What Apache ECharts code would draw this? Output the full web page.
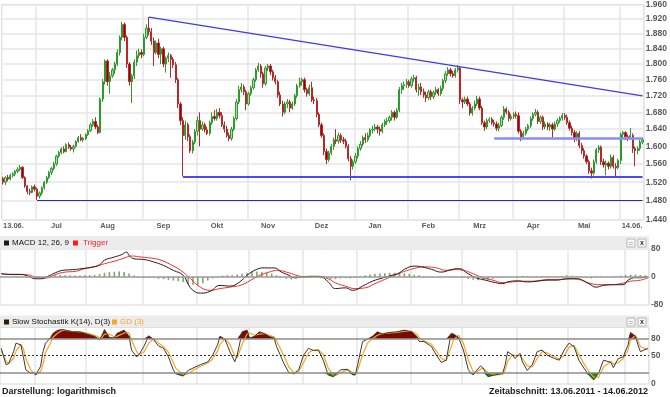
<!DOCTYPE html>
<html>
<head>
<meta charset="utf-8">
<script src="https://cdn.jsdelivr.net/npm/echarts@6/dist/echarts.min.js"></script>
<style>
  html, body { margin: 0; padding: 0; background: #fff; }
  #main { width: 670px; height: 397px; }
</style>
</head>
<body>
<div id="main"></div>
<script>
// ---- data ----
const dayCount = 264; // trading days 13.06.2011 .. 14.06.2012
const priceTicks = [1.44, 1.48, 1.52, 1.56, 1.60, 1.64, 1.68, 1.72, 1.76, 1.80, 1.84, 1.88, 1.92, 1.96];
const monthNames = ['Jan', 'Feb', 'Mrz', 'Apr', 'Mai', 'Jun', 'Jul', 'Aug', 'Sep', 'Okt', 'Nov', 'Dez'];

// [open, close, low, high] per trading day
const candles = [
  [1.528,1.520,1.515,1.532],[1.520,1.530,1.514,1.533],[1.530,1.527,1.522,1.536],[1.527,1.535,1.524,1.539],
  [1.535,1.538,1.530,1.542],[1.538,1.544,1.533,1.547],[1.544,1.548,1.540,1.553],[1.548,1.553,1.544,1.558],
  [1.553,1.530,1.527,1.555],[1.530,1.512,1.508,1.533],[1.512,1.500,1.494,1.514],[1.500,1.498,1.492,1.506],
  [1.498,1.510,1.496,1.513],[1.510,1.505,1.500,1.515],[1.505,1.490,1.482,1.508],[1.490,1.497,1.485,1.500],
  [1.497,1.508,1.492,1.511],[1.508,1.520,1.504,1.523],[1.520,1.530,1.516,1.534],[1.530,1.541,1.527,1.545],
  [1.541,1.550,1.536,1.554],[1.550,1.560,1.546,1.565],[1.560,1.578,1.556,1.581],[1.578,1.586,1.574,1.590],
  [1.586,1.594,1.582,1.598],[1.594,1.588,1.584,1.600],[1.588,1.604,1.586,1.607],[1.604,1.598,1.594,1.609],
  [1.598,1.594,1.590,1.603],[1.594,1.600,1.586,1.604],[1.600,1.611,1.597,1.614],[1.611,1.620,1.608,1.624],
  [1.620,1.615,1.612,1.628],[1.615,1.618,1.610,1.622],[1.618,1.627,1.614,1.630],[1.627,1.636,1.624,1.640],
  [1.636,1.650,1.633,1.655],[1.650,1.658,1.645,1.664],[1.658,1.645,1.640,1.668],[1.645,1.632,1.628,1.650],
  [1.632,1.712,1.630,1.716],[1.712,1.755,1.705,1.762],[1.755,1.808,1.748,1.812],[1.808,1.755,1.745,1.812],
  [1.755,1.770,1.725,1.780],[1.770,1.785,1.765,1.790],[1.785,1.800,1.775,1.806],[1.800,1.830,1.795,1.838],
  [1.830,1.870,1.822,1.875],[1.870,1.905,1.862,1.912],[1.905,1.870,1.860,1.910],[1.870,1.800,1.790,1.875],
  [1.800,1.755,1.745,1.805],[1.755,1.770,1.702,1.775],[1.770,1.805,1.762,1.812],[1.805,1.822,1.795,1.835],
  [1.822,1.830,1.815,1.840],[1.830,1.825,1.815,1.838],[1.825,1.870,1.820,1.880],[1.870,1.895,1.865,1.905],
  [1.895,1.885,1.875,1.925],[1.885,1.860,1.850,1.895],[1.860,1.830,1.795,1.870],[1.830,1.855,1.825,1.862],
  [1.855,1.825,1.815,1.866],[1.825,1.840,1.800,1.845],[1.840,1.800,1.792,1.845],[1.800,1.815,1.778,1.820],
  [1.815,1.822,1.805,1.830],[1.822,1.812,1.765,1.826],[1.812,1.798,1.790,1.818],[1.798,1.760,1.752,1.805],
  [1.760,1.700,1.690,1.765],[1.700,1.660,1.650,1.705],[1.660,1.625,1.533,1.668],[1.625,1.650,1.615,1.660],
  [1.650,1.622,1.612,1.655],[1.622,1.590,1.585,1.628],[1.590,1.610,1.584,1.615],[1.610,1.635,1.605,1.640],
  [1.635,1.660,1.625,1.670],[1.660,1.640,1.600,1.680],[1.640,1.650,1.636,1.658],[1.650,1.638,1.632,1.655],
  [1.638,1.630,1.626,1.645],[1.630,1.655,1.625,1.660],[1.655,1.670,1.650,1.680],[1.670,1.665,1.660,1.685],
  [1.665,1.680,1.660,1.688],[1.680,1.672,1.665,1.690],[1.672,1.650,1.645,1.680],[1.650,1.640,1.632,1.658],
  [1.640,1.625,1.620,1.648],[1.625,1.618,1.612,1.632],[1.618,1.640,1.613,1.645],[1.640,1.665,1.635,1.670],
  [1.665,1.705,1.660,1.712],[1.705,1.735,1.700,1.745],[1.735,1.742,1.728,1.752],[1.742,1.730,1.722,1.748],
  [1.730,1.700,1.685,1.735],[1.700,1.725,1.696,1.730],[1.725,1.740,1.720,1.745],[1.740,1.760,1.735,1.765],
  [1.760,1.785,1.755,1.790],[1.785,1.795,1.780,1.803],[1.795,1.775,1.765,1.800],[1.775,1.750,1.740,1.780],
  [1.750,1.790,1.745,1.795],[1.790,1.795,1.782,1.800],[1.795,1.780,1.772,1.800],[1.780,1.765,1.758,1.785],
  [1.765,1.755,1.748,1.772],[1.755,1.722,1.715,1.760],[1.722,1.700,1.695,1.730],[1.700,1.680,1.670,1.708],
  [1.680,1.700,1.675,1.705],[1.700,1.705,1.690,1.712],[1.705,1.690,1.680,1.710],[1.690,1.700,1.686,1.706],
  [1.700,1.720,1.695,1.725],[1.720,1.745,1.715,1.750],[1.745,1.755,1.740,1.765],[1.755,1.760,1.745,1.765],
  [1.760,1.735,1.728,1.765],[1.735,1.725,1.718,1.740],[1.725,1.740,1.720,1.748],[1.740,1.710,1.705,1.755],
  [1.710,1.708,1.700,1.718],[1.708,1.675,1.668,1.715],[1.675,1.650,1.645,1.680],[1.650,1.625,1.620,1.655],
  [1.625,1.588,1.580,1.630],[1.588,1.570,1.560,1.595],[1.570,1.585,1.565,1.590],[1.585,1.600,1.580,1.605],
  [1.600,1.615,1.592,1.620],[1.615,1.612,1.605,1.640],[1.612,1.625,1.606,1.632],[1.625,1.615,1.608,1.630],
  [1.615,1.612,1.605,1.622],[1.612,1.600,1.595,1.618],[1.600,1.572,1.566,1.605],[1.572,1.555,1.524,1.578],
  [1.555,1.565,1.548,1.570],[1.565,1.578,1.560,1.585],[1.578,1.595,1.572,1.600],[1.595,1.605,1.590,1.612],
  [1.605,1.620,1.600,1.625],[1.620,1.615,1.608,1.630],[1.615,1.625,1.610,1.632],[1.625,1.638,1.620,1.642],
  [1.638,1.640,1.630,1.648],[1.640,1.645,1.635,1.652],[1.645,1.640,1.630,1.650],[1.640,1.635,1.625,1.646],
  [1.635,1.650,1.630,1.655],[1.650,1.658,1.645,1.663],[1.658,1.660,1.650,1.667],[1.660,1.668,1.655,1.672],
  [1.668,1.680,1.660,1.685],[1.680,1.668,1.660,1.684],[1.668,1.685,1.664,1.690],[1.685,1.735,1.680,1.742],
  [1.735,1.745,1.725,1.752],[1.745,1.748,1.735,1.755],[1.748,1.755,1.740,1.762],[1.755,1.745,1.740,1.760],
  [1.745,1.762,1.740,1.768],[1.762,1.765,1.755,1.772],[1.765,1.735,1.728,1.770],[1.735,1.742,1.720,1.750],
  [1.742,1.730,1.722,1.752],[1.730,1.722,1.715,1.738],[1.722,1.715,1.705,1.730],[1.715,1.730,1.710,1.735],
  [1.730,1.718,1.710,1.735],[1.718,1.728,1.712,1.733],[1.728,1.735,1.722,1.742],[1.735,1.725,1.720,1.740],
  [1.725,1.738,1.720,1.745],[1.738,1.758,1.732,1.762],[1.758,1.775,1.752,1.782],[1.775,1.785,1.770,1.792],
  [1.785,1.775,1.768,1.790],[1.775,1.770,1.765,1.782],[1.770,1.785,1.765,1.790],[1.785,1.790,1.778,1.797],
  [1.790,1.710,1.700,1.795],[1.710,1.705,1.690,1.715],[1.705,1.712,1.700,1.718],[1.712,1.700,1.695,1.718],
  [1.700,1.678,1.672,1.705],[1.678,1.690,1.672,1.695],[1.690,1.700,1.685,1.708],[1.700,1.712,1.695,1.720],
  [1.712,1.690,1.685,1.718],[1.690,1.655,1.650,1.695],[1.655,1.645,1.636,1.660],[1.645,1.660,1.640,1.665],
  [1.660,1.663,1.655,1.668],[1.663,1.655,1.650,1.668],[1.655,1.652,1.646,1.662],[1.652,1.642,1.636,1.658],
  [1.642,1.648,1.635,1.655],[1.648,1.668,1.645,1.672],[1.668,1.688,1.662,1.695],[1.688,1.680,1.675,1.692],
  [1.680,1.665,1.658,1.685],[1.665,1.670,1.660,1.676],[1.670,1.675,1.664,1.680],[1.675,1.672,1.665,1.682],
  [1.672,1.635,1.630,1.680],[1.635,1.622,1.612,1.640],[1.622,1.630,1.618,1.636],[1.630,1.640,1.625,1.645],
  [1.640,1.648,1.635,1.652],[1.648,1.665,1.642,1.670],[1.665,1.675,1.660,1.680],[1.675,1.680,1.670,1.688],
  [1.680,1.658,1.652,1.685],[1.658,1.668,1.652,1.672],[1.668,1.645,1.638,1.672],[1.645,1.652,1.640,1.658],
  [1.652,1.645,1.638,1.656],[1.645,1.650,1.636,1.655],[1.650,1.640,1.620,1.655],[1.640,1.652,1.636,1.658],
  [1.652,1.660,1.645,1.665],[1.660,1.666,1.655,1.670],[1.666,1.672,1.660,1.678],[1.672,1.668,1.662,1.678],
  [1.668,1.655,1.650,1.674],[1.655,1.642,1.636,1.660],[1.642,1.632,1.625,1.648],[1.632,1.618,1.610,1.638],
  [1.618,1.630,1.612,1.635],[1.630,1.602,1.596,1.635],[1.602,1.590,1.582,1.608],[1.590,1.578,1.572,1.596],
  [1.578,1.565,1.560,1.582],[1.565,1.545,1.538,1.570],[1.545,1.540,1.528,1.552],[1.540,1.565,1.535,1.570],
  [1.565,1.592,1.560,1.596],[1.592,1.598,1.585,1.603],[1.598,1.565,1.558,1.602],[1.565,1.558,1.552,1.572],
  [1.558,1.562,1.535,1.568],[1.562,1.555,1.548,1.566],[1.555,1.575,1.550,1.582],[1.575,1.555,1.550,1.580],
  [1.555,1.552,1.530,1.562],[1.552,1.568,1.548,1.572],[1.568,1.628,1.560,1.632],[1.628,1.632,1.620,1.636],
  [1.632,1.622,1.615,1.635],[1.622,1.620,1.612,1.628],[1.620,1.625,1.615,1.643],[1.625,1.595,1.585,1.630],
  [1.595,1.590,1.555,1.600],[1.590,1.595,1.582,1.600],[1.595,1.610,1.590,1.615],[1.610,1.615,1.605,1.620]
];

// drawn support / resistance lines: [[day, price], [day, price]]
const trendLines = [
  [[60, 1.925], [263, 1.720]],
  [[74, 1.533], [263, 1.533]],
  [[202, 1.619], [263, 1.619]],
  [[14, 1.481], [263, 1.481]]
];

// MACD 12,26,9 read as [day, value]
const macdLine = [[0,9.5],[4,7.6],[8,7.6],[11,2],[14,-5],[16,-5],[19,2],[22,12],[25,19],[29,21],[33,24],[37,28.6],
  [40,35],[42,48],[46,57],[49,64],[51,71],[52,62],[54,52],[58,50],[62,43],[66,33],[70,19],[74,5],[76,-20],[78,-38],
  [81,-46],[85,-41],[89,-24],[93,-26],[97,-14],[100,5],[104,22],[107,26],[111,26],[114,14],[117,5],[119,-2],[122,0],
  [126,2],[130,0],[133,-14],[136,-33],[140,-31],[143,-38],[147,-26],[151,-12],[155,-3],[159,5],[162,12],[164,22],
  [168,31],[171,29],[175,22],[179,14],[183,21],[186,24],[190,9],[193,-2],[197,-9],[201,-16],[204,-19],[206,-14],
  [210,-11],[214,-14],[218,-12],[222,-9],[226,-9],[230,-5],[234,-5],[239,-19],[242,-29],[245,-24],[250,-22],
  [253,-22],[255,-9],[258,-2],[260,-2],[263,0]];
const triggerLine = [[0,9.5],[5,6.7],[10,6.7],[14,0],[18,-3],[22,7],[26,14],[30,16],[34,24],[38,29],[42,38],
  [46,45],[50,54],[53,60],[57,57],[61,54],[65,48],[69,35],[73,19],[77,-5],[81,-29],[85,-38],[89,-33],[93,-29],
  [98,-22],[102,-7],[106,7],[110,16],[112,19],[117,12],[121,3],[125,0],[129,2],[133,-5],[136,-17],[140,-26],
  [144,-33],[148,-31],[152,-19],[156,-7],[160,5],[164,16],[169,26],[172,29],[177,26],[181,19],[185,21],[188,19],
  [192,9],[196,-2],[200,-9],[204,-16],[208,-14],[212,-12],[216,-12],[220,-9],[224,-7],[228,-7],[232,-5],[236,-9],
  [240,-19],[244,-22],[248,-22],[252,-19],[256,-12],[260,-9],[263,-3]];
// histogram, one value every second trading day
const histogram = [1,1,0,0,-1,-1,-2,-2,-1,0,
  3,5,6,5,5,4,4,5,5,6,8,
  12,14,15,16,14,
  10,4,-2,-3,-3,-3,
  -5,-6,-8,-10,-12,-14,
  -20,-22,-24,-18,-10,-4,
  2,4,5,5,7,9,
  12,15,16,14,12,10,
  5,-2,-5,-7,-5,
  -2,0,1,1,-1,-3,
  -6,-6,-4,-3,-4,-2,
  2,5,7,9,10,11,12,12,12,11,9,6,
  5,3,1,0,-1,
  0,1,2,1,-2,
  -5,-8,-9,-9,-7,-5,
  -3,-2,0,1,2,
  3,3,2,2,3,2,1,
  2,3,5,4,2,0,
  -3,-4,-3,-2,-1,0,
  2,4,6,7,7,6,5];

// Slow stochastic K(14) and D(3) read as [day, value]
const stochK = [[0,63],[1,48],[2,34],[3,36],[5,57],[6,72],[8,69],[9,48],[10,25],[12,19],[13,20],[14,16],[16,31],
  [17,57],[18,72],[20,81],[21,89],[23,95],[25,96],[29,92],[32,92],[35,88],[38,84],[40,78],[41,86],[42,96],[44,82],
  [46,81],[47,89],[50,95],[52,84],[53,60],[55,48],[56,51],[58,66],[60,85],[62,78],[64,67],[66,63],[68,48],[70,25],
  [71,18],[74,14],[76,24],[78,28],[81,34],[84,39],[86,51],[88,69],[89,84],[91,79],[93,57],[95,39],[96,51],[98,92],
  [100,95],[101,81],[103,84],[105,92],[107,89],[109,84],[111,81],[112,66],[115,36],[117,20],[119,18],[121,25],
  [123,51],[125,63],[127,59],[129,60],[131,42],[133,16],[135,13],[136,16],[138,25],[141,26],[143,16],[144,16],
  [145,34],[147,75],[149,79],[151,84],[153,92],[155,88],[158,91],[161,92],[164,95],[167,92],[169,84],[170,75],
  [172,75],[175,66],[177,51],[179,38],[181,42],[183,89],[184,88],[186,82],[188,60],[190,25],[192,16],[193,22],
  [195,32],[196,28],[198,13],[201,16],[204,19],[205,34],[206,57],[208,51],[209,45],[211,54],[212,39],[214,24],
  [216,34],[218,57],[220,60],[222,51],[225,45],[227,42],[229,60],[231,72],[233,66],[235,42],[237,28],[239,16],
  [241,7],[243,19],[245,42],[248,38],[249,29],[251,45],[253,48],[255,69],[256,91],[258,84],[259,69],[260,57],[263,63]];
const stochD = [[0,58],[1,50],[2,40],[3,36],[5,45],[6,58],[8,70],[9,62],[10,45],[12,25],[13,20],[14,18],[16,22],
  [17,35],[18,55],[20,72],[21,82],[23,90],[25,95],[29,93],[32,92],[35,90],[38,86],[40,82],[41,82],[42,88],[44,88],
  [46,83],[47,84],[50,90],[52,90],[53,78],[55,58],[56,52],[58,56],[60,72],[62,80],[64,72],[66,66],[68,56],[70,38],
  [71,28],[74,16],[76,18],[78,24],[81,31],[84,37],[86,44],[88,58],[89,70],[91,80],[93,70],[95,50],[96,46],[98,70],
  [100,88],[101,90],[103,86],[105,88],[107,89],[109,86],[111,83],[112,76],[115,50],[117,30],[119,20],[121,22],
  [123,38],[125,55],[127,60],[129,60],[131,52],[133,28],[135,16],[136,15],[138,20],[141,25],[143,20],[144,18],
  [145,24],[147,52],[149,72],[151,80],[153,86],[155,89],[158,90],[161,91],[164,93],[167,93],[169,88],[170,82],
  [172,76],[175,70],[177,58],[179,45],[181,41],[183,65],[184,78],[186,86],[188,72],[190,42],[192,22],[193,20],
  [195,26],[196,28],[198,20],[201,16],[204,17],[205,25],[206,40],[208,52],[209,50],[211,50],[212,45],[214,32],
  [216,30],[218,45],[220,57],[222,55],[225,48],[227,44],[229,50],[231,65],[233,68],[235,52],[237,36],[239,22],
  [241,12],[243,12],[245,30],[248,40],[249,35],[251,38],[253,45],[255,60],[256,78],[258,86],[259,76],[260,66],[263,60]];

// ---- build ----
const L = Math.log;
const days = [];
const cursor = new Date(Date.UTC(2011, 5, 13));
while (days.length < dayCount) {
  const wd = cursor.getUTCDay();
  if (wd !== 0 && wd !== 6) days.push(new Date(cursor));
  cursor.setUTCDate(cursor.getUTCDate() + 1);
}
const dayKeys = days.map(d => d.toISOString().slice(0, 10));
const pad = n => (n < 10 ? '0' : '') + n;
const shortDate = d => pad(d.getUTCDate()) + '.' + pad(d.getUTCMonth() + 1) + '.';
const longDate = d => shortDate(d) + d.getUTCFullYear();

const monthStarts = new Set();
days.forEach((d, i) => { if (i > 0 && d.getUTCMonth() !== days[i - 1].getUTCMonth()) monthStarts.add(i); });
const labelAt = {};
monthStarts.forEach(i => { labelAt[Math.min(i + 8, dayCount - 8)] = monthNames[days[i].getUTCMonth()]; });
labelAt[0] = shortDate(days[0]);
labelAt[dayCount - 1] = shortDate(days[dayCount - 1]);

const tickVals = priceTicks.map(L);
const FONT = 'Liberation Sans';
const gridLine = { show: true, lineStyle: { color: '#e6e6e6', width: 1.5 } };
const vSplit = { show: true, interval: i => monthStarts.has(i), lineStyle: { color: '#e6e6e6', width: 1.5 } };
const rightLabel = { color: '#5a5a5a', fontFamily: FONT, fontWeight: 'bold', fontSize: 8.5, margin: 2 };

function catAxis(gridIndex, showLabels) {
  return {
    type: 'category', gridIndex, data: dayKeys, boundaryGap: true,
    axisLine: { show: false }, axisTick: { show: false },
    axisLabel: showLabels ? {
      interval: i => i in labelAt,
      formatter: (v, i) => labelAt[i],
      showMinLabel: true, showMaxLabel: true,
      alignMinLabel: 'left', alignMaxLabel: 'right',
      color: '#5a5a5a', fontFamily: FONT, fontWeight: 'bold', fontSize: 7.5, margin: 2, hideOverlap: false
    } : { show: false },
    splitLine: vSplit
  };
}

const trendStyles = [
  { color: '#3b3bf0', width: 1.2, type: 'solid' },
  { color: '#4b4bf2', width: 2, type: 'solid' },
  { color: '#8a8af8', width: 2.5, type: 'solid' },
  { color: '#2424e6', width: 1.2, type: 'solid' }
];

const kHigh = stochK.map(([i, v]) => [i, Math.max(v, 80)]);
const kLow = stochK.map(([i, v]) => [i, Math.min(v, 20)]);

const chart = echarts.init(document.getElementById('main'), null, { renderer: 'canvas' });
chart.setOption({
  animation: false,
  backgroundColor: '#fff',
  grid: [
    { left: -2, width: 651, top: 2.4, height: 217.6, show: true, borderColor: '#d6d6d6', borderWidth: 1 },
    { left: -2, width: 651, top: 249, height: 56, show: true, borderColor: '#d6d6d6', borderWidth: 1 },
    { left: -2, width: 651, top: 327.3, height: 56.7, show: true, borderColor: '#d6d6d6', borderWidth: 1 }
  ],
  xAxis: [catAxis(0, true), catAxis(1, false), catAxis(2, false)],
  yAxis: [
    {
      type: 'value', gridIndex: 0, position: 'right', min: L(1.44), max: L(1.96),
      axisLine: { show: false },
      axisTick: { show: false, customValues: tickVals },
      axisLabel: Object.assign({ customValues: tickVals, formatter: v => Math.exp(v).toFixed(3) }, rightLabel),
      splitLine: gridLine
    },
    {
      type: 'value', gridIndex: 1, position: 'right', min: -80, max: 80, interval: 80,
      axisLine: { show: false }, axisTick: { show: false },
      axisLabel: rightLabel, splitLine: { show: false }
    },
    {
      type: 'value', gridIndex: 2, position: 'right', min: 0, max: 100,
      axisLine: { show: false },
      axisTick: { show: false, customValues: [0, 50, 80] },
      axisLabel: Object.assign({ customValues: [0, 50, 80] }, rightLabel),
      splitLine: { show: false }
    }
  ],
  series: [
    {
      type: 'candlestick', xAxisIndex: 0, yAxisIndex: 0,
      data: candles.map(r => r.map(L)),
      barWidth: '72%',
      itemStyle: { color: '#a9dca9', color0: '#980000', borderColor: '#2c9a2c', borderColor0: '#b42a2a', borderWidth: 1 },
      markLine: {
        silent: true, symbol: 'none', label: { show: false },
        lineStyle: { type: 'solid' },
        data: trendLines.map(([a, b], k) => [
          { coord: [a[0], L(a[1])], lineStyle: trendStyles[k] },
          { coord: [b[0], L(b[1])] }
        ])
      }
    },
    {
      name: 'hist', type: 'bar', xAxisIndex: 1, yAxisIndex: 1,
      data: histogram.map((v, k) => [2 * k, v]),
      barWidth: 1.6, itemStyle: { color: '#7fa371' },
      markLine: {
        silent: true, symbol: 'none', label: { show: false },
        lineStyle: { color: '#9a9a9a', width: 1.5, type: 'solid' },
        data: [{ yAxis: 0 }]
      }
    },
    {
      name: 'Trigger', type: 'line', xAxisIndex: 1, yAxisIndex: 1, data: triggerLine,
      smooth: true, symbol: 'none', lineStyle: { color: '#ff2a2a', width: 1 }
    },
    {
      name: 'MACD', type: 'line', xAxisIndex: 1, yAxisIndex: 1, data: macdLine,
      smooth: true, symbol: 'none', lineStyle: { color: '#1e1e1e', width: 1 }
    },
    {
      type: 'line', xAxisIndex: 2, yAxisIndex: 2, data: kHigh, symbol: 'none',
      lineStyle: { opacity: 0 }, areaStyle: { origin: 80, color: '#7a0a00', opacity: 1 }
    },
    {
      type: 'line', xAxisIndex: 2, yAxisIndex: 2, data: kLow, symbol: 'none',
      lineStyle: { opacity: 0 }, areaStyle: { origin: 20, color: '#138a13', opacity: 1 },
      markLine: {
        silent: true, symbol: 'none', label: { show: false },
        data: [
          { yAxis: 80, lineStyle: { color: '#8c8c8c', width: 1.5, type: 'solid' } },
          { yAxis: 20, lineStyle: { color: '#8c8c8c', width: 1.5, type: 'solid' } },
          { yAxis: 50, lineStyle: { color: '#333', width: 1, type: [2, 2] } }
        ]
      }
    },
    {
      name: 'GD (3)', type: 'line', xAxisIndex: 2, yAxisIndex: 2, data: stochD,
      symbol: 'none', lineStyle: { color: '#f7a525', width: 1.2 }
    },
    {
      name: 'K', type: 'line', xAxisIndex: 2, yAxisIndex: 2, data: stochK,
      symbol: 'none', lineStyle: { color: '#3a3a3a', width: 1 }
    }
  ],
  graphic: [
    // MACD header
    { type: 'rect', shape: { x: 0, y: 236, width: 649, height: 12 }, style: { fill: '#ececec' }, silent: true },
    { type: 'rect', shape: { x: 4, y: 240.5, width: 5, height: 5 }, style: { fill: '#1a1a1a' } },
    { type: 'text', x: 12, y: 243, style: { text: 'MACD 12, 26, 9', fill: '#111', font: '8px "Liberation Sans"', verticalAlign: 'middle' } },
    { type: 'rect', shape: { x: 73, y: 240.5, width: 5, height: 5 }, style: { fill: '#ff1a1a' } },
    { type: 'text', x: 83, y: 243, style: { text: 'Trigger', fill: '#ff2020', font: '8px "Liberation Sans"', verticalAlign: 'middle' } },
    { type: 'rect', shape: { x: 627, y: 239, width: 8, height: 8 }, style: { fill: '#f7f7f7', stroke: '#b8b8b8', lineWidth: 1 } },
    { type: 'text', x: 631, y: 243, style: { text: '::', fill: '#555', font: 'bold 6px "Liberation Sans"', align: 'center', verticalAlign: 'middle' } },
    { type: 'rect', shape: { x: 638, y: 239, width: 8, height: 8 }, style: { fill: '#f7f7f7', stroke: '#b8b8b8', lineWidth: 1 } },
    { type: 'text', x: 642, y: 243, style: { text: 'x', fill: '#333', font: 'bold 7px "Liberation Sans"', align: 'center', verticalAlign: 'middle' } },
    // Stochastic header
    { type: 'rect', shape: { x: 0, y: 315.5, width: 649, height: 11.5 }, style: { fill: '#ececec' }, silent: true },
    { type: 'rect', shape: { x: 4, y: 319.5, width: 5, height: 5 }, style: { fill: '#2a1a0a' } },
    { type: 'text', x: 12, y: 322, style: { text: 'Slow Stochastik K(14), D(3)', fill: '#111', font: '8px "Liberation Sans"', verticalAlign: 'middle' } },
    { type: 'rect', shape: { x: 112, y: 319.5, width: 5, height: 5 }, style: { fill: '#f7a525' } },
    { type: 'text', x: 120, y: 322, style: { text: 'GD (3)', fill: '#f7a525', font: '8px "Liberation Sans"', verticalAlign: 'middle' } },
    { type: 'rect', shape: { x: 627, y: 318, width: 8, height: 8 }, style: { fill: '#f7f7f7', stroke: '#b8b8b8', lineWidth: 1 } },
    { type: 'text', x: 631, y: 322, style: { text: '::', fill: '#555', font: 'bold 6px "Liberation Sans"', align: 'center', verticalAlign: 'middle' } },
    { type: 'rect', shape: { x: 638, y: 318, width: 8, height: 8 }, style: { fill: '#f7f7f7', stroke: '#b8b8b8', lineWidth: 1 } },
    { type: 'text', x: 642, y: 322, style: { text: 'x', fill: '#333', font: 'bold 7px "Liberation Sans"', align: 'center', verticalAlign: 'middle' } },
    // footer
    { type: 'text', x: 2, y: 392, style: { text: 'Darstellung: logarithmisch', fill: '#222', font: 'bold 9px "Liberation Sans"', verticalAlign: 'middle' } },
    { type: 'text', x: 648, y: 392, style: { text: 'Zeitabschnitt: ' + longDate(days[0]) + ' - ' + longDate(days[dayCount - 1]), fill: '#222', font: 'bold 9px "Liberation Sans"', align: 'right', verticalAlign: 'middle' } }
  ]
});
</script>
</body>
</html>
